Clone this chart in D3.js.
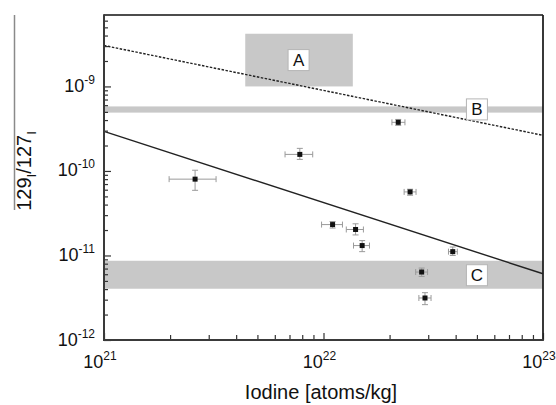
<!DOCTYPE html>
<html><head><meta charset="utf-8">
<script src="https://cdn.jsdelivr.net/npm/d3@7"></script>
<style>body{margin:0;background:#fff}svg{display:block}text{font-family:"Liberation Sans",Arial,sans-serif;fill:#111}</style>
</head><body><svg id="c" width="556" height="405"></svg>
<script>
// ---- data ----
const xDomain = [1e21, 1e23];
const yDomain = [1e-12, 7e-9];
const xMajor = [1e21, 1e22, 1e23];
const xExp = ["21", "22", "23"];
const yMajor = [1e-12, 1e-11, 1e-10, 1e-9];
const yExp = ["-12", "-11", "-10", "-9"];
// measured samples: iodine concentration and 129I/127I ratio with error bounds
const ptX   = [2.6e21, 7.8e21, 2.19e22, 2.48e22, 1.10e22, 1.40e22, 1.50e22, 3.88e22, 2.80e22, 2.90e22];
const ptY   = [8.0e-11, 1.57e-10, 3.76e-10, 5.65e-11, 2.32e-11, 2.03e-11, 1.31e-11, 1.11e-11, 6.37e-12, 3.14e-12];
const ptXlo = [1.98e21, 6.68e21, 2.05e22, 2.33e22, 9.8e21, 1.27e22, 1.37e22, 3.71e22, 2.63e22, 2.72e22];
const ptXhi = [3.24e21, 8.93e21, 2.35e22, 2.64e22, 1.22e22, 1.52e22, 1.62e22, 4.07e22, 2.98e22, 3.09e22];
const ptYlo = [5.9e-11, 1.37e-10, 3.46e-10, 5.16e-11, 2.11e-11, 1.75e-11, 1.11e-11, 1.0e-11, 5.65e-12, 2.62e-12];
const ptYhi = [1.02e-10, 1.85e-10, 4.07e-10, 6.08e-11, 2.52e-11, 2.37e-11, 1.50e-11, 1.26e-11, 7.1e-12, 3.63e-12];
// reference lines (endpoints)
const dashedLine = [[1e21, 3.05e-9], [1e23, 2.64e-10]];
const solidLine  = [[1e21, 2.94e-10], [1e23, 6.08e-12]];
// shaded regions: [x0, x1, y0, y1] (null x = full width)
const regionNames = ["A", "B", "C"];
const regionX = [[4.4e21, 1.36e22], null, null];
const regionY = [[1e-9, 4.2e-9], [4.9e-10, 5.8e-10], [4.04e-12, 8.66e-12]];
const labelX = [7.7e21, 5.0e22, 5.0e22];
const labelY = [2.05e-9, 5.35e-10, 5.84e-12];

// ---- chart ----
const svg = d3.select("#c");
const L = 104, R = 543, T = 15, B = 340;
const x = d3.scaleLog().domain(xDomain).range([L, R]);
const y = d3.scaleLog().domain(yDomain).range([B, T]);

// stray rule at left edge of the figure
svg.append("line").attr("x1", 14.5).attr("x2", 14.5).attr("y1", T).attr("y2", 210)
  .attr("stroke", "#8a8a8a").attr("stroke-width", 1.5);

// shaded regions
const grey = "#c8c8c8";
regionNames.forEach((n, i) => {
  const xr = regionX[i] ? regionX[i].map(x) : [L, R];
  const yr = regionY[i].map(y);
  svg.append("rect").attr("x", Math.min(...xr)).attr("width", Math.abs(xr[1] - xr[0]))
    .attr("y", Math.min(...yr)).attr("height", Math.abs(yr[1] - yr[0])).attr("fill", grey);
});

// lines
const line = d3.line().x(d => x(d[0])).y(d => y(d[1]));
svg.append("path").attr("d", line(dashedLine)).attr("fill", "none")
  .attr("stroke", "#222").attr("stroke-width", 1.4).attr("stroke-dasharray", "2.5,1.5");
svg.append("path").attr("d", line(solidLine)).attr("fill", "none")
  .attr("stroke", "#222").attr("stroke-width", 1.4);

// label boxes
regionNames.forEach((n, i) => {
  const cx = x(labelX[i]), cy = y(labelY[i]);
  svg.append("rect").attr("x", cx - 10.5).attr("y", cy - 10.5).attr("width", 21).attr("height", 21)
    .attr("fill", "#fff").attr("stroke", "#b5b5b5").attr("stroke-width", 1);
  svg.append("text").attr("x", cx).attr("y", cy + 6).attr("text-anchor", "middle")
    .attr("font-size", 17).text(n);
});

// error bars and markers
const eb = svg.append("g").attr("stroke", "#9a9a9a").attr("stroke-width", 1).attr("fill", "none");
ptX.forEach((v, i) => {
  const cx = x(v), cy = y(ptY[i]);
  const x0 = x(ptXlo[i]), x1 = x(ptXhi[i]), y0 = y(ptYlo[i]), y1 = y(ptYhi[i]);
  eb.append("line").attr("x1", x0).attr("x2", x1).attr("y1", cy).attr("y2", cy);
  eb.append("line").attr("x1", x0).attr("x2", x0).attr("y1", cy - 3).attr("y2", cy + 3);
  eb.append("line").attr("x1", x1).attr("x2", x1).attr("y1", cy - 3).attr("y2", cy + 3);
  eb.append("line").attr("x1", cx).attr("x2", cx).attr("y1", y0).attr("y2", y1);
  eb.append("line").attr("x1", cx - 3).attr("x2", cx + 3).attr("y1", y0).attr("y2", y0);
  eb.append("line").attr("x1", cx - 3).attr("x2", cx + 3).attr("y1", y1).attr("y2", y1);
});
svg.append("g").selectAll("rect").data(ptX).join("rect")
  .attr("x", (d) => x(d) - 2.5).attr("y", (d, i) => y(ptY[i]) - 2.5)
  .attr("width", 5).attr("height", 5).attr("fill", "#111");

// minor tick values
const minors = (lo, hi) => { const a = []; for (let e = lo; e < hi; e++) for (let k = 2; k <= 9; k++) a.push(k * Math.pow(10, e)); return a; };
const xMinor = minors(21, 23);
const yMinor = minors(-12, -9).concat([2e-9, 3e-9, 4e-9, 5e-9, 6e-9]);

// axes
function styleAxis(g) { g.selectAll("line").attr("stroke", "#333").attr("stroke-width", 1.2); g.selectAll("text").remove(); g.select(".domain").remove(); }
svg.append("g").attr("transform", `translate(${L},0)`).call(d3.axisLeft(y).tickValues(yMinor).tickSize(-4).tickFormat("")).call(styleAxis);
svg.append("g").attr("transform", `translate(${L},0)`).call(d3.axisLeft(y).tickValues(yMajor).tickSize(-7).tickFormat("")).call(styleAxis);
svg.append("g").attr("transform", `translate(0,${B})`).call(d3.axisBottom(x).tickValues(xMinor).tickSize(-5).tickFormat("")).call(styleAxis);
svg.append("g").attr("transform", `translate(0,${B})`).call(d3.axisBottom(x).tickValues(xMajor).tickSize(-7).tickFormat("")).call(styleAxis);

// frame
svg.append("line").attr("x1", L).attr("x2", R).attr("y1", T).attr("y2", T).attr("stroke", "#111").attr("stroke-width", 1.5);
svg.append("line").attr("x1", R).attr("x2", R).attr("y1", T).attr("y2", B).attr("stroke", "#222").attr("stroke-width", 1.8);
svg.append("line").attr("x1", L).attr("x2", L).attr("y1", T - 0.75).attr("y2", B + 1).attr("stroke", "#3a3a3a").attr("stroke-width", 2);
svg.append("line").attr("x1", L - 1).attr("x2", R + 0.9).attr("y1", B).attr("y2", B).attr("stroke", "#3a3a3a").attr("stroke-width", 2);

// tick labels
yMajor.forEach((v, i) => {
  const t = svg.append("text").attr("x", 95).attr("y", y(v) + 5.5).attr("text-anchor", "end").attr("font-size", 18);
  t.append("tspan").text("10");
  t.append("tspan").attr("font-size", 12).attr("dy", -8).text(yExp[i]);
});
xMajor.forEach((v, i) => {
  const t = svg.append("text").attr("x", x(v) - 4).attr("y", 368).attr("text-anchor", "middle").attr("font-size", 18);
  t.append("tspan").text("10");
  t.append("tspan").attr("font-size", 12).attr("dy", -8).text(xExp[i]);
});

// axis titles
svg.append("text").attr("x", 321).attr("y", 399).attr("text-anchor", "middle").attr("font-size", 20).text("Iodine [atoms/kg]");
const yt = svg.append("text").attr("transform", "translate(31,171) rotate(-90)").attr("text-anchor", "middle").attr("font-size", 20);
yt.append("tspan").text("129");
yt.append("tspan").attr("font-size", 13).attr("dy", 5).text("I");
yt.append("tspan").attr("dy", -5).text("/127");
yt.append("tspan").attr("font-size", 13).attr("dy", 5).text("I");
</script></body></html>
